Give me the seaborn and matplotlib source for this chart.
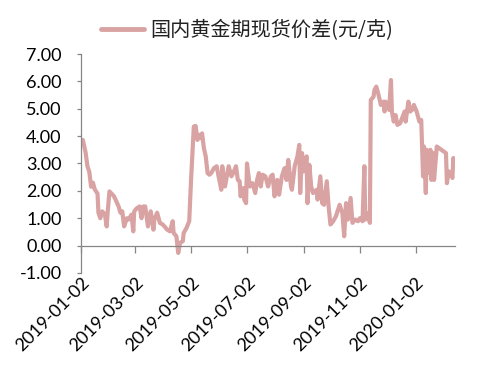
import numpy as np
import pandas as pd
import matplotlib
matplotlib.use("Agg")
import matplotlib.pyplot as plt
from matplotlib.ticker import FormatStrFormatter
import seaborn as sns

# ---- data ----
start_date = "2019-01-02"
day_offsets = [0, 2, 5, 7, 9, 11, 13, 15, 18, 19, 21, 23, 26, 28, 29, 31, 36, 41, 43, 45,
               47, 50, 52, 55, 57, 58, 61, 64, 66, 68, 70, 73, 76, 79, 80, 83, 86, 89, 91, 94,
               97, 100, 101, 104, 106, 108, 111, 112, 115, 118, 120, 123, 125, 127, 129, 131, 132, 134, 136, 138,
               140, 142, 145, 148, 150, 153, 154, 157, 159, 161, 164, 166, 169, 171, 173, 174, 177, 178, 180, 181,
               184, 187, 190, 192, 194, 196, 198, 201, 204, 207, 209, 211, 214, 216, 219, 222, 224, 226, 229, 230,
               233, 236, 238, 239, 241, 243, 246, 247, 249, 251, 253, 255, 257, 258, 261, 263, 265, 268, 270, 272,
               275, 278, 282, 285, 287, 289, 291, 294, 296, 299, 302, 304, 307, 309, 310, 313, 315, 316, 319, 320,
               322, 324, 327, 330, 331, 332, 334, 336, 338, 339, 341, 343, 345, 348, 350, 353, 354, 357, 359, 361,
               363, 366, 369, 371, 372, 373, 374, 376, 377, 379, 381, 382, 384, 385, 388, 393, 398, 399, 401, 404,
               405, 406, 408]
spread = [3.85, 3.86, 3.40, 2.90, 2.70, 2.15, 2.30, 2.05, 1.90, 1.20, 1.00, 1.25, 1.15, 0.70, 1.20, 1.98, 1.80, 1.43, 1.20, 1.25,
          0.70, 1.00, 0.95, 1.13, 0.52, 1.25, 1.37, 1.43, 1.00, 1.43, 1.43, 0.70, 1.25, 0.58, 0.95, 1.20, 0.83, 0.77, 0.70, 0.58,
          0.52, 0.89, 0.46, 0.34, -0.27, 0.10, 0.16, 0.46, 0.64, 0.89, 2.40, 4.35, 4.37, 3.86, 4.05, 3.92, 4.10, 3.56, 3.26, 2.65,
          2.59, 2.65, 2.83, 2.90, 2.53, 2.04, 2.90, 2.16, 2.53, 2.90, 2.53, 2.65, 2.90, 2.40, 2.35, 1.80, 2.10, 1.68, 1.55, 3.00,
          2.16, 2.28, 1.92, 2.40, 2.65, 2.16, 2.59, 2.53, 2.16, 2.53, 2.59, 1.80, 2.40, 1.86, 2.53, 2.83, 2.40, 3.13, 2.16, 2.04,
          2.90, 3.26, 3.68, 1.92, 3.38, 2.71, 3.26, 1.55, 2.95, 2.16, 1.92, 1.98, 2.04, 1.68, 2.53, 1.55, 1.49, 2.35, 1.43, 0.77,
          0.89, 1.07, 1.49, 1.19, 0.34, 1.55, 0.95, 1.74, 0.83, 0.95, 0.89, 1.00, 0.89, 2.90, 0.95, 1.19, 0.83, 5.32, 5.44, 5.69,
          5.81, 5.57, 5.14, 5.26, 4.90, 5.26, 5.20, 4.96, 6.05, 4.90, 4.53, 4.77, 4.41, 4.47, 4.65, 4.90, 4.53, 5.26, 4.90, 4.96,
          5.14, 4.90, 4.53, 4.59, 3.56, 2.53, 3.62, 1.92, 3.50, 2.65, 3.50, 2.40, 3.38, 2.40, 3.62, 3.50, 3.38, 2.28, 2.71, 2.59,
          2.47, 3.20, 2.90]
series_name = "国内黄金期现货价差(元/克)"
x_tick_labels = ["2019-01-02", "2019-03-02", "2019-05-02", "2019-07-02",
                 "2019-09-02", "2019-11-02", "2020-01-02"]
x_end = "2020-02-14"
y_ticks = [-1, 0, 1, 2, 3, 4, 5, 6, 7]

dates = pd.Timestamp(start_date) + pd.to_timedelta(day_offsets, unit="D")
df = pd.DataFrame({"date": dates, "value": spread, "series": series_name})

sns.set_theme(style="white")
plt.rcParams["font.family"] = ["Lato", "Noto Sans CJK SC", "DejaVu Sans"]

line_color = "#D9A3A3"
axis_color = "#868686"

fig = plt.figure(figsize=(4.91, 3.78), dpi=100)
ax = fig.add_axes([0.165, 0.278, 0.762, 0.579])

sns.lineplot(data=df, x="date", y="value", hue="series", palette=[line_color],
             linewidth=3.0, ax=ax, legend=True)

ax.set_ylim(-1, 7)
ax.set_xlim(pd.Timestamp(start_date), pd.Timestamp(x_end))
ax.set_yticks(y_ticks)
ax.yaxis.set_major_formatter(FormatStrFormatter("%.2f"))
ax.set_xticks(pd.to_datetime(x_tick_labels))
ax.set_xticklabels(x_tick_labels)
ax.set_xlabel("")
ax.set_ylabel("")

for s in ["top", "right"]:
    ax.spines[s].set_visible(False)
ax.spines["bottom"].set_position(("data", 0))
for s in ["bottom", "left"]:
    ax.spines[s].set_color(axis_color)
    ax.spines[s].set_linewidth(0.9)

ax.tick_params(axis="x", direction="out", length=5, width=0.9, color=axis_color, bottom=True,
               pad=16, labelsize=13, labelcolor="#000000")
ax.tick_params(axis="y", direction="out", length=3, width=0.9, color=axis_color, left=True,
               pad=11, labelsize=13, labelcolor="#000000")
for lbl in ax.get_xticklabels():
    lbl.set_rotation(45)
    lbl.set_horizontalalignment("right")
    lbl.set_verticalalignment("top")
    lbl.set_rotation_mode("anchor")

leg = ax.legend(loc="center", bbox_to_anchor=(0.503, 0.92), bbox_transform=fig.transFigure,
                frameon=False, handlelength=2.15, handletextpad=0.3,
                prop={"family": ["Noto Sans CJK SC", "DejaVu Sans"], "size": 14.5})
for h in leg.get_lines():
    h.set_linewidth(3.5)
for t in leg.get_texts():
    t.set_color("#222222")

fig.savefig("out.png", dpi=100)
